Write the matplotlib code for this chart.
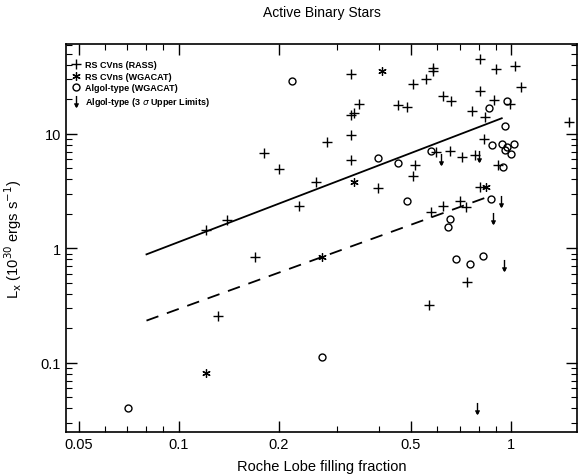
import matplotlib
matplotlib.use('Agg')
import matplotlib.pyplot as plt
from matplotlib.path import Path
from matplotlib.ticker import FixedLocator, NullFormatter, LogLocator

plt.rcParams['font.family'] = ['Liberation Sans', 'DejaVu Sans']

# RS CVns (RASS)
rass_x = [0.329, 0.582, 0.582, 0.507, 0.554, 0.809, 0.90, 1.028, 1.074, 0.809,
          0.624, 0.662, 0.889, 0.993, 0.762, 0.837, 0.349, 0.338, 0.329, 0.457,
          0.486, 1.496, 0.280, 0.329, 0.830, 0.594, 0.654, 0.711, 0.780, 0.329,
          0.515, 0.507, 0.912, 0.259, 0.398, 0.230, 0.809, 0.703, 0.733, 0.625,
          0.576, 0.736, 0.565, 0.200, 0.180, 0.121, 0.140, 0.170, 0.131]
rass_y = [33.3, 37.9, 35.3, 27.2, 30.1, 44.7, 36.6, 39.1, 25.8, 23.6,
          21.6, 19.2, 19.9, 18.2, 16.0, 14.1, 18.4, 15.2, 14.7, 17.8,
          17.1, 12.6, 8.43, 9.76, 8.95, 6.89, 7.13, 6.32, 6.53, 5.87,
          5.31, 4.31, 5.34, 3.77, 3.36, 2.36, 3.46, 2.61, 2.28, 2.34,
          2.09, 0.512, 0.32, 4.93, 6.76, 1.445, 1.756, 0.846, 0.258]

# RS CVns (WGACAT)
wga_x = [0.409, 0.338, 0.839, 0.121, 0.270]
wga_y = [35.3, 3.79, 3.46, 0.081, 0.846]

# Algol-type (WGACAT)
algol_x = [0.2195, 0.971, 0.859, 0.959, 0.879, 0.938, 0.971, 0.959, 1.0, 1.023,
           0.575, 0.398, 0.457, 0.948, 0.486, 0.869, 0.654, 0.645, 0.684, 0.753,
           0.822, 0.270, 0.0706]
algol_y = [29.1, 19.3, 17.0, 11.8, 7.98, 8.10, 7.73, 7.22, 6.71, 8.21,
           7.13, 6.20, 5.56, 5.17, 2.57, 2.72, 1.82, 1.525, 0.80, 0.725,
           0.857, 0.1117, 0.040]

# Algol-type upper limits
ul_x = [0.615, 0.801, 0.931, 0.881, 0.953, 0.789]
ul_y = [6.02, 6.45, 2.57, 1.83, 0.715, 0.040]

# fitted relations
fit_x = [0.080, 0.938]
fit_y = [0.887, 13.7]
fit2_x = [0.080, 0.855]
fit2_y = [0.234, 2.83]

# thin down arrow marker
arrow = Path([(0, 1), (0, -1), (-0.35, -0.35), (0, -1), (0.35, -0.35)],
             [Path.MOVETO, Path.LINETO, Path.MOVETO, Path.LINETO, Path.LINETO])

fig = plt.figure(figsize=(5.79, 4.77), dpi=100)
ax = fig.add_axes([66 / 579, 1 - 433 / 477, (577 - 66) / 579, (433 - 45) / 477])

ax.plot(rass_x, rass_y, '+', color='black', ms=7, mew=1.0, label='RS CVns (RASS)')
ax.plot(wga_x, wga_y, marker=(6, 2, 0), ls='none', color='black', ms=6, mew=0.9,
        label='RS CVns (WGACAT)')
ax.plot(algol_x, algol_y, 'o', mfc='none', mec='black', ms=5, mew=1.0,
        label='Algol-type (WGACAT)')
ax.plot(ul_x, ul_y, ls='none', marker=arrow, color='black', ms=8, mew=1.0,
        label=r'Algol-type (3 $\sigma$ Upper Limits)')
ax.plot(fit_x, fit_y, '-', color='black', lw=1.3)
ax.plot(fit2_x, fit2_y, '--', color='black', lw=1.3, dashes=(7, 5))

ax.set_xscale('log')
ax.set_yscale('log')
ax.set_xlim(0.0458, 1.58)
ax.set_ylim(0.0249, 61)

ax.xaxis.set_major_locator(FixedLocator([0.05, 0.1, 0.2, 0.5, 1]))
ax.set_xticklabels(['0.05', '0.1', '0.2', '0.5', '1'])
ax.xaxis.set_minor_locator(LogLocator(base=10, subs=range(2, 10)))
ax.xaxis.set_minor_formatter(NullFormatter())
ax.yaxis.set_major_locator(FixedLocator([0.1, 1, 10]))
ax.set_yticklabels(['0.1', '1', '10'])
ax.yaxis.set_minor_locator(LogLocator(base=10, subs=range(2, 10)))
ax.yaxis.set_minor_formatter(NullFormatter())

ax.tick_params(which='both', direction='in', top=True, right=True, labelsize=10.5)
ax.tick_params(which='major', length=8, width=1)
ax.tick_params(which='minor', length=4, width=0.8)
for s in ax.spines.values():
    s.set_linewidth(1.2)

ax.set_xlabel('Roche Lobe filling fraction', fontsize=10.5, labelpad=6)
ax.set_ylabel(r'L$_\mathrm{x}$ (10$^{30}$ ergs s$^{-1}$)', fontsize=10.5, labelpad=12)
ax.set_title('Active Binary Stars', fontsize=10, pad=20)

leg = ax.legend(loc='upper left', bbox_to_anchor=(-0.005, 0.982), frameon=False,
                handlelength=0.8, handletextpad=0.6, labelspacing=0.3,
                borderaxespad=0.6, numpoints=1,
                prop={'weight': 'bold', 'size': 6.5})

fig.savefig('out.png', dpi=100)
